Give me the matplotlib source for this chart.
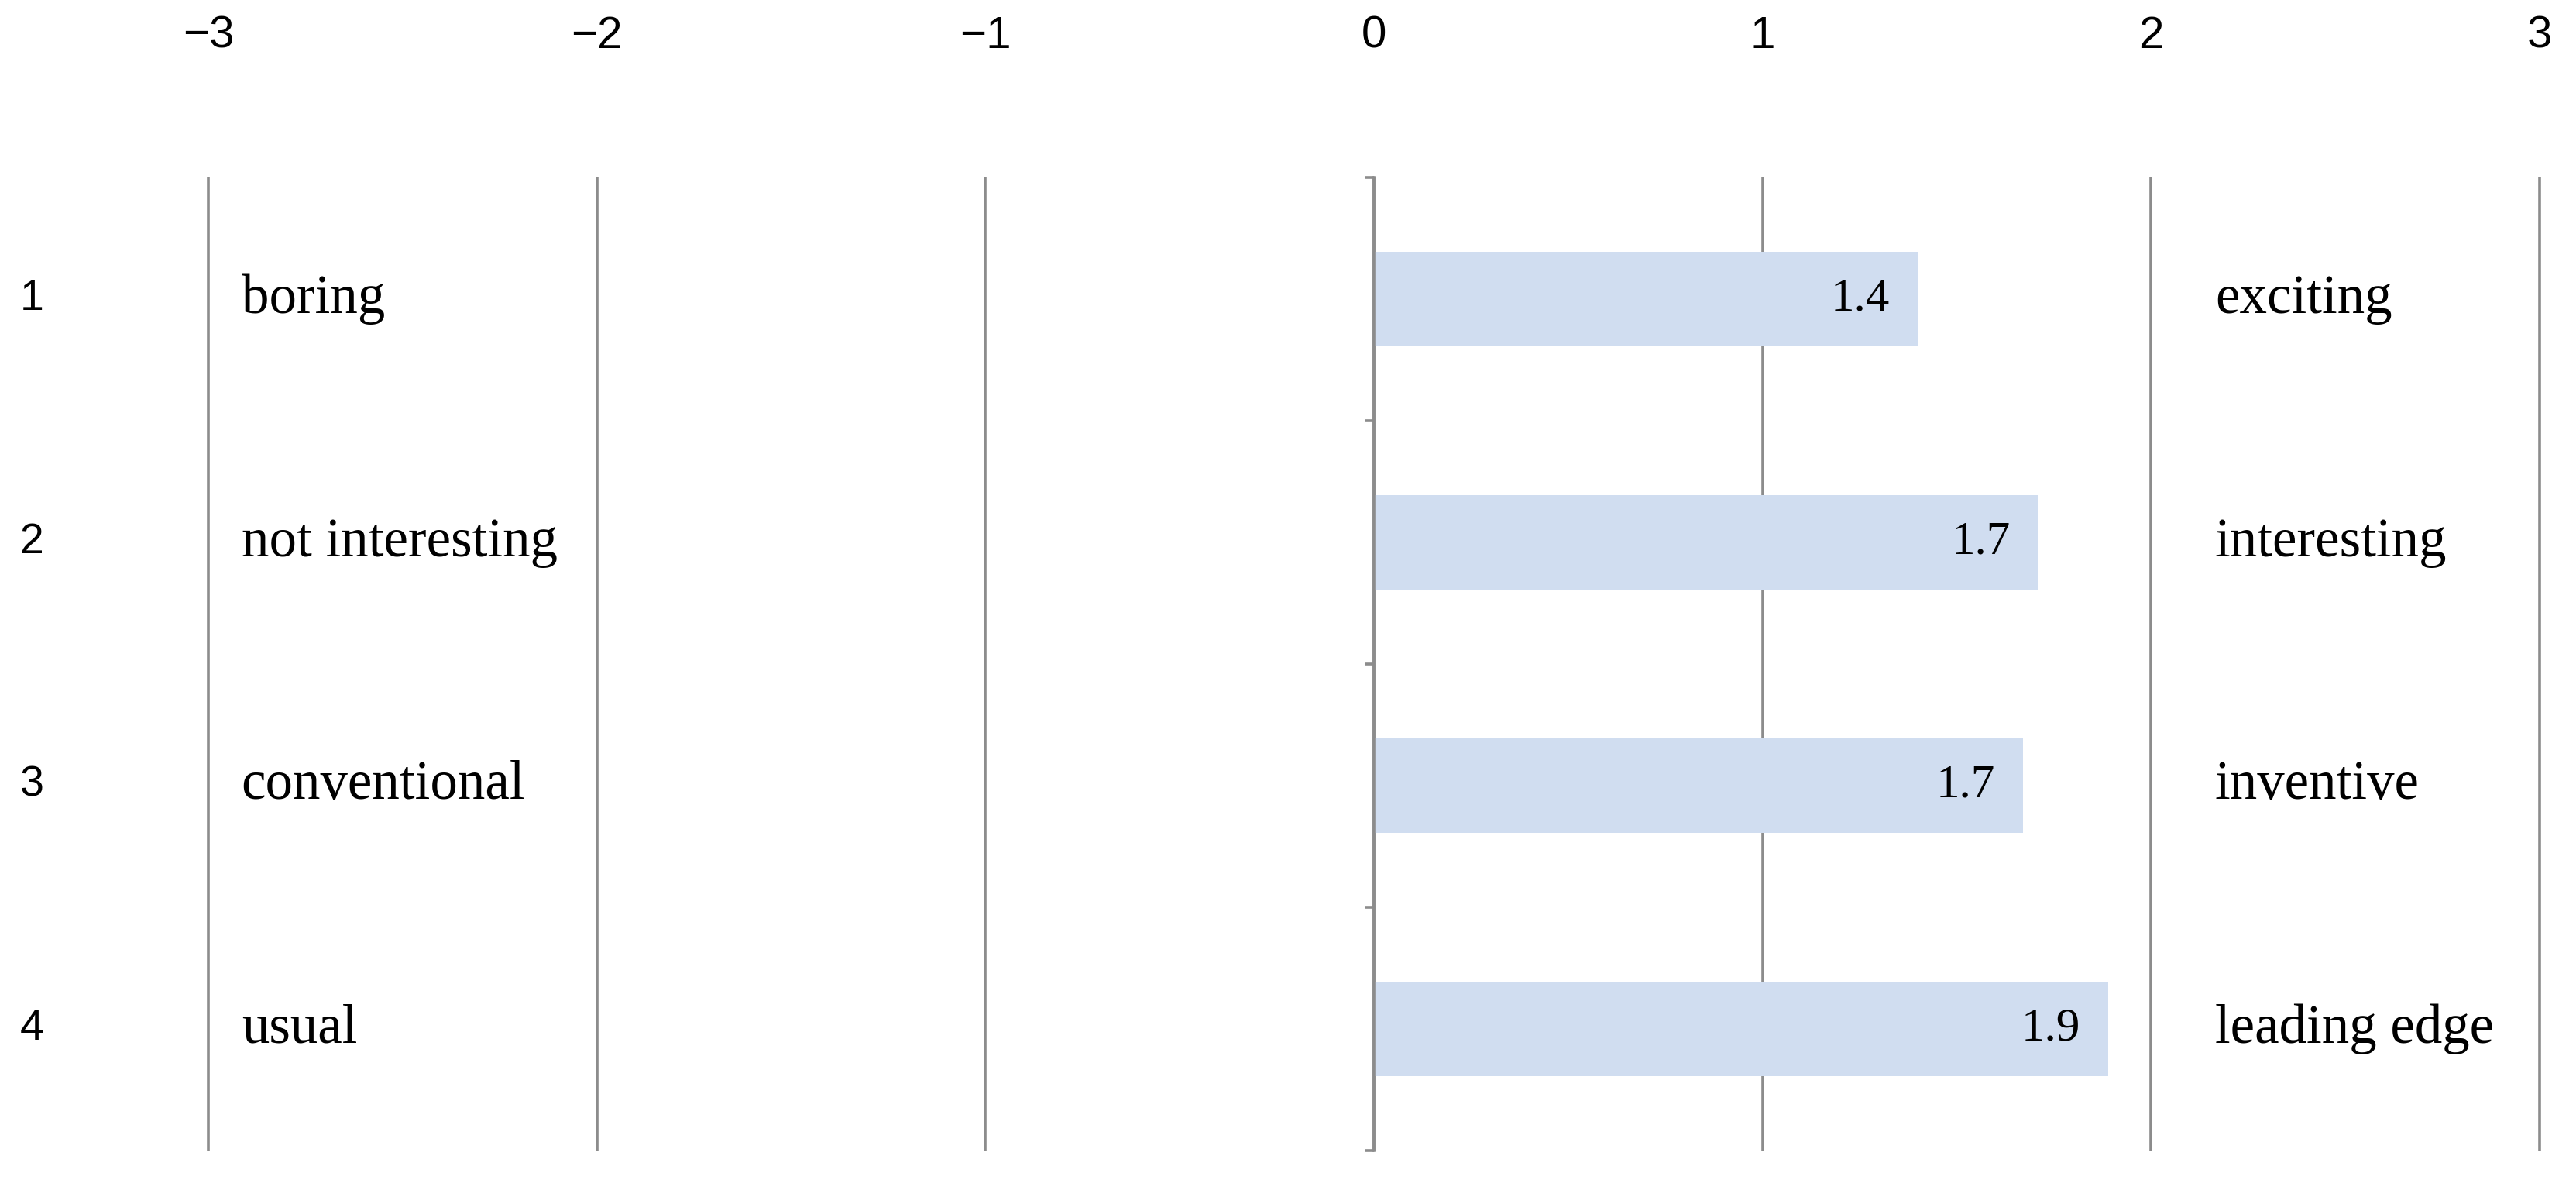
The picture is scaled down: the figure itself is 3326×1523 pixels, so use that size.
import matplotlib
matplotlib.use('Agg')
import matplotlib.pyplot as plt
import matplotlib.transforms as mtransforms

# data
row_numbers = ['1', '2', '3', '4']
left_labels = ['boring', 'not interesting', 'conventional', 'usual']
right_labels = ['exciting', 'interesting', 'inventive', 'leading edge']
scores = [1.40, 1.71, 1.67, 1.89]
score_labels = ['1.4', '1.7', '1.7', '1.9']
x_ticks = [-3, -2, -1, 0, 1, 2, 3]
x_tick_labels = ['\u22123', '\u22122', '\u22121', '0', '1', '2', '3']

grid_color = '#8c8c8c'
bar_color = '#d0ddf0'
sans = ['Liberation Sans Narrow', 'Liberation Sans', 'DejaVu Sans']
serif = ['Liberation Serif', 'DejaVu Serif']

fig = plt.figure(figsize=(33.26, 15.23), dpi=100)
ax = fig.add_axes([0.0794, 0.025, 0.9079, 0.8246])

y = list(range(len(scores)))
ax.barh(y, scores, height=0.39, color=bar_color, zorder=1)

ax.set_xlim(-3.01, 3.01)
ax.set_ylim(3.5, -0.5)

# vertical grid at every integer
ax.set_xticks(x_ticks)
ax.xaxis.tick_top()
ax.set_xticklabels(x_tick_labels)
for lab in ax.get_xticklabels():
    lab.set_family(sans)
    lab.set_fontsize(42)
ax.tick_params(axis='x', length=0, pad=112)
ax.grid(axis='x', color=grid_color, linewidth=2.6)
ax.set_axisbelow(True)

# category axis sits at x = 0 with ticks between rows
for s in ['top', 'right', 'bottom']:
    ax.spines[s].set_visible(False)
ax.spines['left'].set_position(('data', 0))
ax.spines['left'].set_color(grid_color)
ax.spines['left'].set_linewidth(2.6)
ax.spines['left'].set_zorder(3)
ax.set_yticks([-0.5, 0.5, 1.5, 2.5, 3.5])
ax.set_yticklabels([])
ax.tick_params(axis='y', length=9, width=2.6, color=grid_color, direction='out')

trans = mtransforms.blended_transform_factory(fig.transFigure, ax.transData)
for i in y:
    ax.text(0.0123, i, row_numbers[i], transform=trans, family=sans,
            fontsize=40, ha='center', va='center')
    ax.text(-2.915, i, left_labels[i], family=serif, fontsize=51,
            ha='left', va='center')
    ax.text(2.165, i, right_labels[i], family=serif, fontsize=51,
            ha='left', va='center')
    ax.annotate(score_labels[i], (scores[i], i), xytext=(-26, 0),
                textcoords='offset points', family=serif, fontsize=44,
                ha='right', va='center')

fig.savefig('out.png', dpi=100)
